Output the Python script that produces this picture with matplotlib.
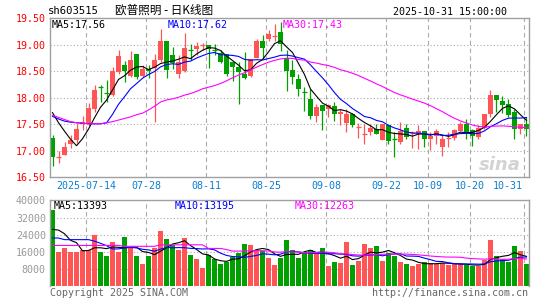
import matplotlib
matplotlib.use('Agg')
import matplotlib.pyplot as plt
import pandas as pd
import numpy as np

# daily candles 2025-07-04 .. 2025-10-31
opens = [17.25, 16.88, 16.93, 17.12, 17.21, 17.50, 17.50, 17.79, 18.21, 18.10,
         18.06, 18.48, 18.61, 18.42, 18.82, 18.42, 18.55, 18.56, 18.72, 19.07,
         18.80, 18.45, 18.50, 18.91, 18.92, 18.99, 19.00, 18.91, 18.85, 18.83,
         18.67, 18.58, 18.45, 18.42, 18.75, 19.08, 19.11, 19.15, 19.24, 18.75,
         18.53, 18.36, 18.12, 17.98, 17.65, 17.86, 17.79, 17.84, 17.69, 17.52,
         17.70, 17.43, 17.31, 17.35, 17.42, 17.21, 17.48, 17.23, 17.16, 17.43,
         17.33, 17.31, 17.38, 17.23, 17.27, 17.07, 17.24, 17.25, 17.38, 17.50,
         17.40, 17.26, 17.43, 17.70, 18.06, 17.94, 17.89, 17.73, 17.42, 17.50]
highs = [17.29, 16.99, 17.16, 17.29, 17.52, 17.65, 17.91, 18.25, 18.25, 18.33,
         18.58, 18.91, 18.70, 18.88, 18.83, 18.61, 18.62, 18.83, 19.30, 19.07,
         18.95, 18.80, 19.22, 19.01, 19.05, 19.03, 19.00, 19.01, 18.91, 18.83,
         18.67, 18.67, 18.86, 18.74, 19.11, 19.18, 19.27, 19.40, 19.43, 18.91,
         18.72, 18.45, 18.20, 18.17, 17.89, 17.86, 17.89, 17.92, 17.79, 17.79,
         17.71, 17.52, 17.50, 17.50, 17.50, 17.50, 17.50, 17.35, 17.54, 17.51,
         17.38, 17.48, 17.38, 17.35, 17.42, 17.29, 17.35, 17.42, 17.54, 17.60,
         17.42, 17.48, 17.70, 18.14, 18.06, 18.03, 17.98, 17.79, 17.50, 17.64]
lows = [16.71, 16.77, 16.93, 17.06, 17.14, 17.40, 17.46, 17.73, 17.93, 17.92,
        18.04, 18.45, 18.30, 18.39, 18.36, 18.40, 18.38, 17.54, 18.67, 18.38,
        18.55, 18.38, 18.48, 18.72, 18.80, 18.91, 18.57, 18.80, 18.66, 18.42,
        18.31, 17.89, 18.36, 18.39, 18.75, 18.75, 19.08, 19.07, 18.89, 18.13,
        18.26, 18.03, 17.75, 17.60, 17.54, 17.40, 17.64, 17.57, 17.48, 17.35,
        17.45, 17.25, 17.12, 17.29, 17.31, 17.21, 17.13, 16.89, 17.13, 17.23,
        17.06, 17.04, 17.08, 17.01, 17.13, 16.91, 17.07, 17.21, 17.38, 17.23,
        17.10, 17.23, 17.42, 17.64, 17.73, 17.71, 17.64, 17.23, 17.32, 17.27]
closes = [16.88, 16.89, 17.08, 17.21, 17.42, 17.54, 17.80, 18.15, 18.20, 18.09,
          18.50, 18.79, 18.50, 18.72, 18.39, 18.55, 18.50, 18.72, 19.07, 18.53,
          18.65, 18.67, 18.94, 18.90, 18.97, 19.00, 18.92, 18.90, 18.67, 18.45,
          18.58, 18.48, 18.38, 18.74, 19.07, 18.94, 19.20, 19.16, 19.01, 18.50,
          18.40, 18.17, 18.11, 17.65, 17.82, 17.75, 17.87, 17.70, 17.74, 17.69,
          17.48, 17.44, 17.32, 17.43, 17.31, 17.50, 17.18, 17.22, 17.38, 17.26,
          17.34, 17.38, 17.23, 17.27, 17.38, 17.23, 17.25, 17.40, 17.50, 17.32,
          17.27, 17.43, 17.70, 18.06, 17.95, 17.86, 17.67, 17.42, 17.50, 17.42]
volumes = [35700, 16000, 17700, 16000, 16000, 16800, 16800, 23900, 16100, 14000,
           20500, 16100, 22800, 17600, 14000, 10300, 14000, 17700, 25600, 21900,
           19100, 17000, 22300, 14500, 12900, 8600, 14760, 12900, 10300, 11380,
           13690, 15690, 19840, 19070, 17070, 16300, 13230, 9840, 13230, 21380,
           16760, 13100, 16000, 16800, 16000, 17700, 9400, 11400, 10900, 20600,
           9850, 11700, 19550, 17850, 18650, 11700, 15550, 14300, 11400, 10300,
           9400, 10300, 11400, 10900, 10600, 10900, 9850, 10300, 10300, 9850,
           9400, 9400, 12150, 21400, 14300, 12600, 11400, 18650, 16300, 10600]

# moving average values before a full window is available
ma5_head = [17.72, 17.53, 17.37, 17.22]
ma10_head = [17.65, 17.60, 17.56, 17.54, 17.53, 17.52, 17.51, 17.51, 17.51]
ma30_head = [17.67, 17.63, 17.59, 17.55, 17.53, 17.52, 17.51, 17.51, 17.51, 17.53,
             17.55, 17.58, 17.61, 17.64, 17.68, 17.71, 17.77, 17.84, 17.92, 17.96,
             17.98, 18.01, 18.05, 18.08, 18.12, 18.17, 18.20, 18.23, 18.27]
vma5_head = [26450, 26150, 24450, 21380]
vma10_head = [22450, 22450, 21700, 21700, 21700, 21700, 21700, 21000, 20000]
vma30_head = [19000] * 12 + [18600] * 6 + [19300] * 8 + [17600] * 3

tick_idx = [6, 16, 26, 36, 46, 56, 63, 70, 79]
tick_labels = ['2025-07-14', '07-28', '08-11', '08-25', '09-08', '09-22', '10-09', '10-20', '10-31']
price_ticks = [16.5, 17.0, 17.5, 18.0, 18.5, 19.0, 19.5]
vol_ticks = [8000, 16000, 24000, 32000, 40000]


def moving_avg(vals, n, head):
    s = pd.Series(vals, dtype=float).rolling(n).mean().to_numpy()
    s[:n - 1] = head
    return s


W, H = 545, 300
RED = '#ff5555'
GREEN = '#00a000'
FRAME = '#a0a0a0'
mono = 'DejaVu Sans Mono'

fig = plt.figure(figsize=(W / 100, H / 100), dpi=100)


def fx(px):
    return px / W


def fy(py):
    return 1 - py / H


n = len(closes)
x = np.arange(n)
up = np.array(closes) >= np.array(opens)
colors = [RED if u else GREEN for u in up]
xl = (-0.42, n - 1 + 0.42)

# ---- price panel
ax = fig.add_axes([fx(50), fy(177.3), fx(479), (177.3 - 18.3) / H])
ax.set_xlim(*xl)
ax.set_ylim(16.5, 19.5)
for i in range(n):
    ax.vlines(x[i], lows[i], highs[i], color=colors[i], lw=0.9, zorder=2)
    lo, hi = min(opens[i], closes[i]), max(opens[i], closes[i])
    if hi - lo < 0.012:
        ax.hlines(closes[i], x[i] - 0.42, x[i] + 0.42, color=colors[i], lw=0.9, zorder=2)
    else:
        ax.bar(x[i], hi - lo, bottom=lo, width=0.84, color=colors[i], lw=0, zorder=2)

ma5 = moving_avg(closes, 5, ma5_head)
ma10 = moving_avg(closes, 10, ma10_head)
ma30 = moving_avg(closes, 30, ma30_head)
ax.plot(x, ma5, color='black', lw=0.8, zorder=3)
ax.plot(x, ma10, color='#0000ff', lw=0.8, zorder=3)
ax.plot(x, ma30, color='#ff00ff', lw=0.8, zorder=3)

ax.set_yticks(price_ticks)
ax.set_yticklabels(['%.2f' % t for t in price_ticks], color='#ff0000', fontsize=7.2, family=mono)
ax.set_xticks([])
for t in price_ticks[1:-1]:
    ax.axhline(t, color='#aaaaaa', ls=(0, (1, 2)), lw=0.8, zorder=1)
for i in tick_idx:
    ax.axvline(i - 0.42, color='#aaaaaa', ls=(0, (4, 3)), lw=0.8, zorder=1)
ax.tick_params(axis='y', length=0, pad=3)
for s in ax.spines.values():
    s.set_color(FRAME)
    s.set_linewidth(1)

# ---- volume panel
vx = fig.add_axes([fx(50), fy(286.3), fx(479), 86 / H])
vx.set_xlim(*xl)
vx.set_ylim(0, 40000)
vx.bar(x, volumes, width=0.84, color=colors, lw=0, zorder=2)
vx.plot(x, moving_avg(volumes, 5, vma5_head), color='black', lw=0.8, zorder=3)
vx.plot(x, moving_avg(volumes, 10, vma10_head), color='#0000ff', lw=0.8, zorder=3)
vx.plot(x, moving_avg(volumes, 30, vma30_head), color='#ff00ff', lw=0.8, zorder=3)
vx.set_yticks(vol_ticks)
vx.set_yticklabels([str(t) for t in vol_ticks], color='#999999', fontsize=7.2, family=mono)
vx.set_xticks([])
for t in vol_ticks[:-1]:
    vx.axhline(t, color='#aaaaaa', ls=(0, (1, 2)), lw=0.8, zorder=1)
for i in tick_idx:
    vx.axvline(i - 0.42, color='#aaaaaa', ls=(0, (4, 3)), lw=0.8, zorder=1)
vx.tick_params(axis='y', length=0, pad=3)
for s in vx.spines.values():
    s.set_color(FRAME)
    s.set_linewidth(1)
vx.spines['bottom'].set_visible(False)

# ---- date labels
label_x = [86, 146, 206, 266, 326, 386, 428, 470, 508]
for px, lab in zip(label_x, tick_labels):
    fig.text(fx(px), fy(186), lab, ha='center', va='center', color='#0a7fd0',
             fontsize=7.2, family=mono)

# ---- header
fig.text(fx(48), fy(11.5), 'sh603515', ha='left', va='center', fontsize=7.6, family=mono)
fig.text(fx(115), fy(10), '欧普照明 - 日K线图', ha='left', va='center', fontsize=8.4,
         family=['Noto Sans CJK SC', 'DejaVu Sans'])
fig.text(fx(507), fy(12), '2025-10-31 15:00:00', ha='right', va='center', fontsize=7.2, family=mono)

# ---- legends (values as printed on the chart)
fig.text(fx(52), fy(24.5), 'MA5:17.56', color='black', fontsize=7.2, family=mono, va='center')
fig.text(fx(168), fy(24.5), 'MA10:17.62', color='#0000ff', fontsize=7.2, family=mono, va='center')
fig.text(fx(283), fy(24.5), 'MA30:17.43', color='#ff00ff', fontsize=7.2, family=mono, va='center')
fig.text(fx(54), fy(206), 'MA5:13393', color='black', fontsize=7.2, family=mono, va='center')
fig.text(fx(175), fy(206), 'MA10:13195', color='#0000ff', fontsize=7.2, family=mono, va='center')
fig.text(fx(295), fy(206), 'MA30:12263', color='#ff00ff', fontsize=7.2, family=mono, va='center')

# ---- footer and watermark
fig.text(fx(50), fy(292.5), 'Copyright 2025 SINA.COM', color='#666666', fontsize=7.2, family=mono,
         ha='left', va='center')
fig.text(fx(528), fy(292.5), 'http://finance.sina.com.cn', color='#666666', fontsize=7.2, family=mono,
         ha='right', va='center')
fig.text(fx(500), fy(165), 'sina', color='#c8c8c8', fontsize=13, weight='bold', style='italic',
         ha='center', va='center', alpha=0.8)

fig.savefig('out.png', dpi=100)
